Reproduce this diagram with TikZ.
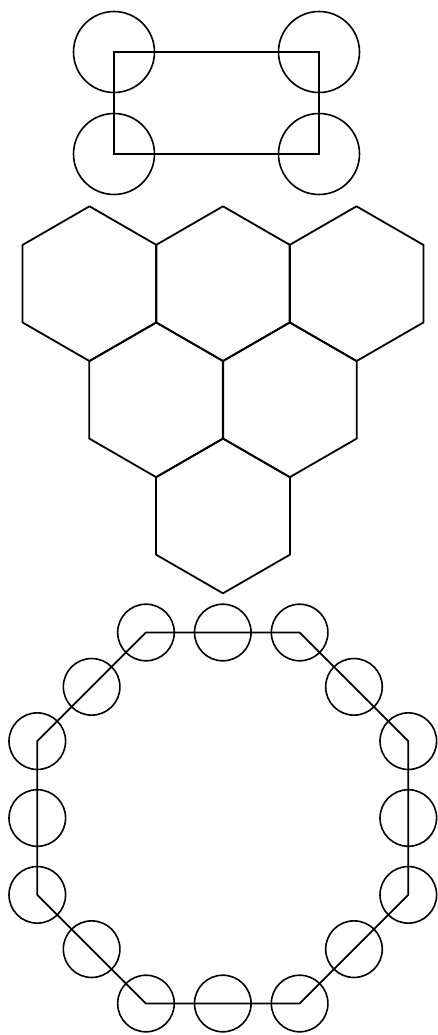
\documentclass[tikz,border=0pt]{standalone}
\begin{document}
\begin{tikzpicture}[x=1pt,y=-1pt,line width=1.8pt]

\useasboundingbox (0,0) rectangle (438,1035);

% Rectangle
\begin{scope}

\draw (114,52) rectangle (319,154);

\draw[line width=1.6pt] (114,52) circle (40.5);
\draw[line width=1.6pt] (319,52) circle (40.5);
\draw[line width=1.6pt] (114,154) circle (40.5);
\draw[line width=1.6pt] (319,154) circle (40.5);

\end{scope}

% Hexagons
\begin{scope}

\foreach \cx/\cy in {89.5/283.7, 223/283.7, 356.5/283.7, 156.2/399.8, 289.8/399.8, 223/515.9}
{
\draw[line join=round]
(\cx,\cy)
+(90:77.4)
--
+(30:77.4)
--
+(-30:77.4)
--
+(-90:77.4)
--
+(-150:77.4)
--
+(150:77.4)
--
cycle;
}

\end{scope}

% Octagon
\begin{scope}[shift={(222.8,818)}]

\draw[line join=round]
(22.5:200.8)
\foreach \a in {67.5,112.5,...,337.5} { -- (\a:200.8) }
-- cycle;

\foreach \a in {22.5,67.5,...,337.5}
\draw[line width=1.6pt] (\a:200.8) circle (28.3);

\foreach \a in {0,45,...,315}
\draw[line width=1.6pt] (\a:185.5) circle (28.3);

\end{scope}

\end{tikzpicture}
\end{document}
